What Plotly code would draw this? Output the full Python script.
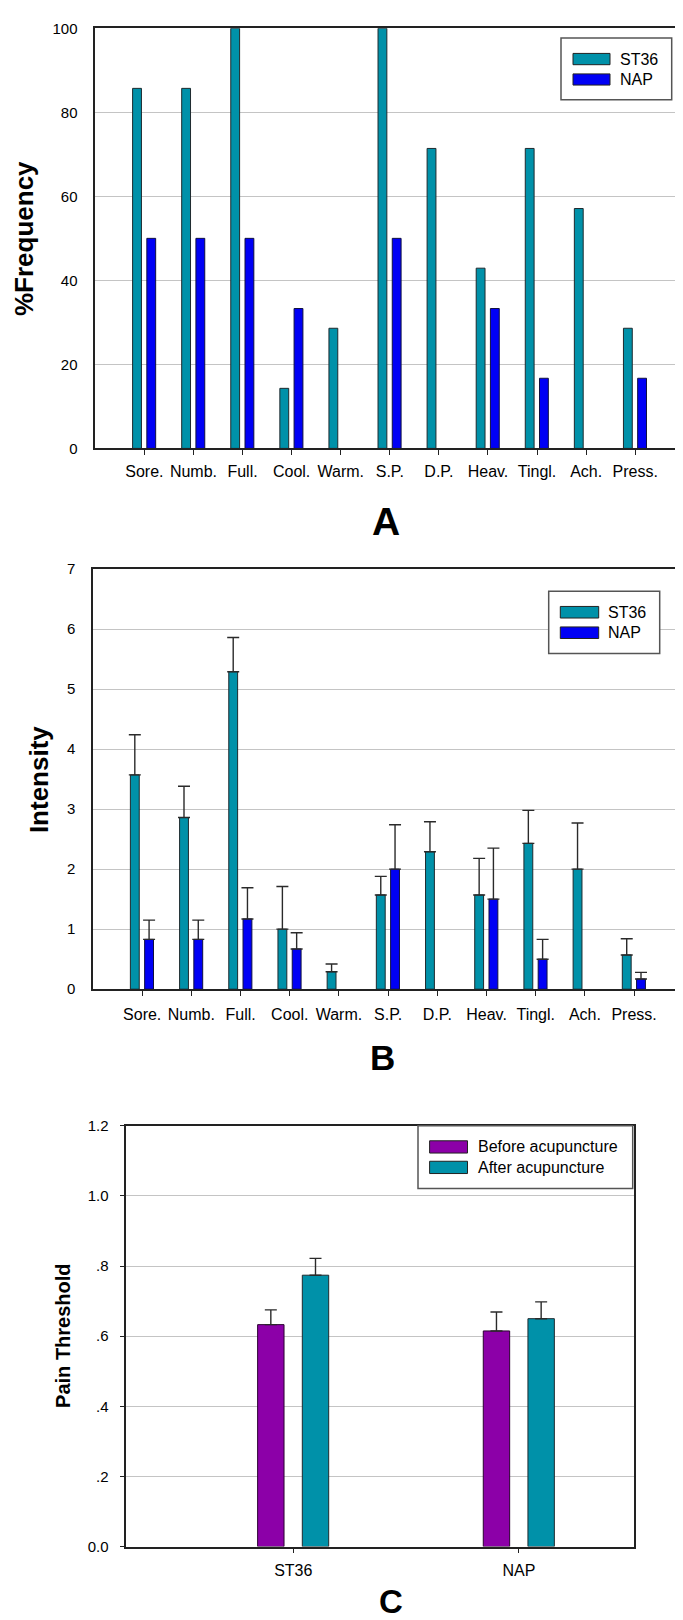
import plotly.graph_objects as go

# ---------------- data ----------------
categories = ["Sore.", "Numb.", "Full.", "Cool.", "Warm.", "S.P.", "D.P.", "Heav.", "Tingl.", "Ach.", "Press."]
series_names = ["ST36", "NAP"]

freq_st36 = [85.7, 85.7, 100, 14.3, 28.6, 100, 71.4, 42.9, 71.4, 57.1, 28.6]
freq_nap = [50, 50, 50, 33.3, 0, 50, 0, 33.3, 16.7, 0, 16.7]

int_st36 = [3.57, 2.86, 5.29, 1.00, 0.29, 1.57, 2.29, 1.57, 2.43, 2.00, 0.57]
int_st36_err_top = [4.24, 3.38, 5.86, 1.71, 0.42, 1.88, 2.79, 2.18, 2.98, 2.77, 0.84]
int_nap = [0.83, 0.83, 1.17, 0.67, 0, 2.00, 0, 1.50, 0.50, 0, 0.17]
int_nap_err_top = [1.15, 1.15, 1.69, 0.94, None, 2.74, None, 2.35, 0.83, None, 0.28]

groups_c = ["ST36", "NAP"]
phase_names = ["Before acupuncture", "After acupuncture"]
pain_before = [0.633, 0.615]
pain_before_err_top = [0.675, 0.669]
pain_after = [0.774, 0.650]
pain_after_err_top = [0.822, 0.698]

freq_ticks = [0, 20, 40, 60, 80, 100]
int_ticks = [0, 1, 2, 3, 4, 5, 6, 7]
pain_ticks = [0.0, 0.2, 0.4, 0.6, 0.8, 1.0, 1.2]
pain_ticktext = ["0.0", ".2", ".4", ".6", ".8", "1.0", "1.2"]

# ---------------- style ----------------
W, H = 683, 1620
TEAL = "#0091A9"
BLUE = "#0000F5"
PURPLE = "#8C00A8"
OUTLINE = "#1E2A2E"
FONT = "Liberation Sans, Arial, sans-serif"
AXC = "#222222"
GRID = "#C4C4C4"


def px(x):
    return x / W


def py(y):
    return 1 - y / H


def nz(vals):
    # a zero value draws no bar at all in the original
    return [v if v else None for v in vals]


def upper(vals, tops):
    return [None if t is None else round(t - v, 4) for v, t in zip(vals, tops)]


err_style = dict(type="data", symmetric=False, color="#2a2a2a", thickness=1.4, width=6)

fig = go.Figure()

# Panel A
fig.add_trace(go.Bar(x=categories, y=nz(freq_st36), name=series_names[0], xaxis="x", yaxis="y",
                     width=0.18, offset=-0.24,
                     marker=dict(color=TEAL, line=dict(color=OUTLINE, width=1))))
fig.add_trace(go.Bar(x=categories, y=nz(freq_nap), name=series_names[1], xaxis="x", yaxis="y",
                     width=0.18, offset=0.05,
                     marker=dict(color=BLUE, line=dict(color="#101040", width=1))))

# Panel B
fig.add_trace(go.Bar(x=categories, y=nz(int_st36), name=series_names[0], xaxis="x2", yaxis="y2",
                     width=0.18, offset=-0.24,
                     error_y=dict(array=upper(int_st36, int_st36_err_top),
                                  arrayminus=[0] * len(int_st36), **err_style),
                     marker=dict(color=TEAL, line=dict(color=OUTLINE, width=1))))
fig.add_trace(go.Bar(x=categories, y=nz(int_nap), name=series_names[1], xaxis="x2", yaxis="y2",
                     width=0.18, offset=0.05,
                     error_y=dict(array=upper(int_nap, int_nap_err_top),
                                  arrayminus=[0] * len(int_nap), **err_style),
                     marker=dict(color=BLUE, line=dict(color="#101040", width=1))))

# Panel C
fig.add_trace(go.Bar(x=groups_c, y=pain_before, name=phase_names[0], xaxis="x3", yaxis="y3",
                     width=0.117, offset=-0.158,
                     error_y=dict(array=upper(pain_before, pain_before_err_top),
                                  arrayminus=[0] * 2, **err_style),
                     marker=dict(color=PURPLE, line=dict(color="#2a0030", width=1))))
fig.add_trace(go.Bar(x=groups_c, y=pain_after, name=phase_names[1], xaxis="x3", yaxis="y3",
                     width=0.117, offset=0.04,
                     error_y=dict(array=upper(pain_after, pain_after_err_top),
                                  arrayminus=[0] * 2, **err_style),
                     marker=dict(color=TEAL, line=dict(color=OUTLINE, width=1))))

tickfont = dict(family=FONT, size=15, color="black")
catfont = dict(family=FONT, size=16, color="black")


def xax(domain, rng, cats, standoff=4):
    return dict(domain=domain, type="category", categoryorder="array", categoryarray=cats,
                range=rng, showline=True, linecolor=AXC, linewidth=1.5, mirror=True,
                ticks="outside", ticklen=5, tickcolor=AXC, tickwidth=1.2,
                ticklabelstandoff=standoff, tickfont=catfont, showgrid=False, zeroline=False,
                fixedrange=True)


def yax(domain, rng, tv, tt=None, visible_ticks=False, anchor="x"):
    d = dict(domain=domain, range=rng, tickvals=tv, showline=True, linecolor=AXC,
             linewidth=1.5, mirror=True, showgrid=True, gridcolor=GRID, gridwidth=1,
             zeroline=False, tickfont=tickfont, anchor=anchor, fixedrange=True)
    if tt is not None:
        d["ticktext"] = tt
    if visible_ticks:
        d.update(ticks="outside", ticklen=5, tickcolor=AXC, tickwidth=1.2, ticklabelstandoff=8)
    else:
        d.update(ticks="outside", ticklen=0, ticklabelstandoff=13)
    return d


fig.update_layout(
    width=W, height=H, margin=dict(l=0, r=0, t=0, b=0),
    paper_bgcolor="white", plot_bgcolor="white",
    barmode="overlay", showlegend=False,
    font=dict(family=FONT, color="black"),
    xaxis=xax([px(87.3), px(676.3)], [-1, 11], categories, 3) | dict(anchor="y"),
    yaxis=yax([py(436), py(11.4)], [0, 100], freq_ticks, anchor="x"),
    xaxis2=xax([px(85), px(675.3)], [-1, 11], categories, 5) | dict(anchor="y2"),
    yaxis2=yax([py(982.5), py(557.9)], [0, 7], int_ticks, anchor="x2"),
    xaxis3=xax([px(118.3), px(626)], [-0.74, 1.51], groups_c, 3) | dict(anchor="y3"),
    yaxis3=yax([py(1545.8), py(1120.6)], [0, 1.2], pain_ticks, pain_ticktext,
               visible_ticks=True, anchor="x3"),
)

annotations = []
shapes = []


def add_text(x, y, text, size, bold=False, angle=0, xanchor="center"):
    annotations.append(dict(x=px(x), y=py(y), xref="paper", yref="paper", text=f"<b>{text}</b>" if bold else text,
                            showarrow=False, textangle=angle, xanchor=xanchor, yanchor="middle",
                            font=dict(family=FONT, size=size, color="black")))


# axis titles
add_text(16.7, 223.7, "%Frequency", 26, bold=True, angle=-90)
add_text(31.7, 770.5, "Intensity", 26, bold=True, angle=-90)
add_text(55, 1332.9, "Pain Threshold", 20, bold=True, angle=-90)

# panel letters
add_text(377.7, 510, "A", 39, bold=True)
add_text(374.3, 1051.7, "B", 35, bold=True)
add_text(382.7, 1601.7, "C", 33, bold=True)


def legend(box, sw_x, rows, text_x):
    x0, y0, x1, y1 = box
    shapes.append(dict(type="rect", xref="paper", yref="paper", x0=px(x0), x1=px(x1), y0=py(y1), y1=py(y0),
                       line=dict(color="#555555", width=1.5), fillcolor="white", layer="above"))
    for (ya, yb, color, label) in rows:
        shapes.append(dict(type="rect", xref="paper", yref="paper", x0=px(sw_x[0]), x1=px(sw_x[1]),
                           y0=py(yb), y1=py(ya), line=dict(color="#222222", width=1), fillcolor=color,
                           layer="above"))
        add_text(text_x, (ya + yb) / 2, label, 16, xanchor="left")


legend((553, 21.3, 663.7, 83.6), (565, 602),
       [(36.8, 48.2, TEAL, series_names[0]), (57.5, 68.8, BLUE, series_names[1])], 610)
legend((540.7, 580.3, 651.7, 643.2), (552.3, 590.7),
       [(595.7, 607.4, TEAL, series_names[0]), (616.4, 628.1, BLUE, series_names[1])], 597.5)
legend((410, 1120.6, 624.7, 1183.9), (421.6, 459.5),
       [(1135.7, 1148.1, PURPLE, phase_names[0]), (1156.4, 1168.8, TEAL, phase_names[1])], 467.5)

fig.update_layout(annotations=annotations, shapes=shapes)

fig.write_html("out.html")
